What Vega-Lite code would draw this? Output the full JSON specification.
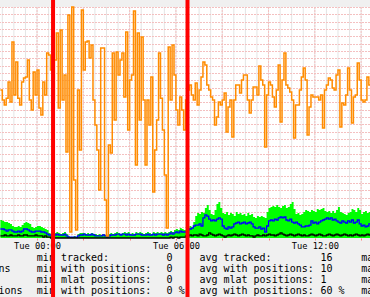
{
  "$schema": "https://vega.github.io/schema/vega-lite/v6.json",
  "width": 370,
  "height": 231,
  "autosize": {"type": "none"},
  "padding": {"top": 7, "bottom": 59, "left": 0, "right": 0},
  "background": "#f0f0f0",
  "config": {"view": {"fill": "#ffffff", "stroke": null}, "font": "DejaVu Sans Mono"},
  "datasets": {
    "hgrid": [{"v":100},{"v":96.9697},{"v":93.5065},{"v":90.4762},{"v":87.4459},{"v":83.9827},{"v":80.9524},{"v":77.9221},{"v":74.4589},{"v":71.4286},{"v":68.3983},{"v":64.9351},{"v":61.9048},{"v":58.8745},{"v":55.4113},{"v":52.3810},{"v":49.3506},{"v":45.8874},{"v":42.8571},{"v":39.8268},{"v":36.3636},{"v":33.3333},{"v":30.3030},{"v":26.8398},{"v":23.8095},{"v":20.7792},{"v":17.3160},{"v":14.2857},{"v":11.2554},{"v":7.7922},{"v":4.7619},{"v":1.7316}],
    "vgrid": [{"t":-90},{"t":-60},{"t":-30},{"t":0},{"t":30},{"t":60},{"t":90},{"t":120},{"t":150},{"t":180},{"t":210},{"t":240},{"t":270},{"t":300},{"t":330},{"t":360},{"t":390},{"t":420},{"t":450},{"t":480},{"t":510},{"t":540},{"t":570},{"t":600},{"t":630},{"t":660},{"t":690},{"t":720},{"t":750},{"t":780},{"t":810},{"t":840}],
    "series": [
      {"t":-95,"o":64.1,"g":7.8,"b":3.9,"k":0.9},
      {"t":-90,"o":59.7,"g":7.4,"b":3.9,"k":0.9},
      {"t":-85,"o":57.6,"g":6.9,"b":3.5,"k":1.3},
      {"t":-80,"o":60.5,"g":6.9,"b":3.0,"k":0.9},
      {"t":-75,"o":67.5,"g":6.5,"b":3.5,"k":0.9},
      {"t":-70,"o":58.9,"g":6.1,"b":3.5,"k":1.3},
      {"t":-65,"o":84.8,"g":5.2,"b":3.0,"k":0.9},
      {"t":-60,"o":61.9,"g":4.8,"b":2.6,"k":0.9},
      {"t":-55,"o":76.2,"g":4.8,"b":2.6,"k":0.9},
      {"t":-50,"o":60.5,"g":5.2,"b":3.0,"k":1.3},
      {"t":-45,"o":57.6,"g":4.8,"b":2.6,"k":0.9},
      {"t":-40,"o":67.5,"g":5.6,"b":3.0,"k":0.9},
      {"t":-35,"o":69.3,"g":6.5,"b":3.9,"k":1.3},
      {"t":-30,"o":69.7,"g":6.9,"b":3.9,"k":1.3},
      {"t":-25,"o":77.1,"g":6.5,"b":3.5,"k":0.9},
      {"t":-20,"o":59.7,"g":6.1,"b":3.0,"k":0.9},
      {"t":-15,"o":55.4,"g":4.8,"b":2.6,"k":0.9},
      {"t":-10,"o":71.9,"g":4.3,"b":2.6,"k":0.9},
      {"t":-5,"o":61.9,"g":4.8,"b":3.0,"k":1.3},
      {"t":0,"o":72.7,"g":5.2,"b":3.0,"k":0.9},
      {"t":5,"o":56.3,"g":5.2,"b":3.0,"k":0.9},
      {"t":10,"o":53.2,"g":4.8,"b":2.6,"k":0.9},
      {"t":15,"o":67.5,"g":4.3,"b":2.6,"k":0.4},
      {"t":20,"o":61.9,"g":3.9,"b":2.2,"k":0.9},
      {"t":25,"o":80.1,"g":3.5,"b":1.7,"k":0.4},
      {"t":30,"o":79.2,"g":2.2,"b":1.3,"k":0.4},
      {"t":35,"o":72.7,"g":1.7,"b":1.3,"k":0},
      {"t":40,"o":59.7,"g":2.6,"b":1.7,"k":0},
      {"t":45,"o":77.1,"g":2.2,"b":1.3,"k":0},
      {"t":50,"o":88.7,"g":2.6,"b":1.7,"k":0},
      {"t":55,"o":56.3,"g":2.2,"b":1.3,"k":0},
      {"t":60,"o":90,"g":1.7,"b":1.3,"k":0},
      {"t":65,"o":59.7,"g":2.2,"b":1.3,"k":0},
      {"t":70,"o":70.6,"g":2.6,"b":1.7,"k":0},
      {"t":75,"o":37.2,"g":1.7,"b":0.9,"k":0},
      {"t":80,"o":96.5,"g":0.9,"b":0.4,"k":0},
      {"t":85,"o":2.6,"g":0.4,"b":0.4,"k":0},
      {"t":90,"o":100,"g":0.4,"b":0.4,"k":0},
      {"t":95,"o":25.1,"g":0.9,"b":0.4,"k":0},
      {"t":100,"o":3.5,"g":0.4,"b":0.4,"k":0},
      {"t":105,"o":64.1,"g":1.7,"b":0.9,"k":0},
      {"t":110,"o":38.1,"g":2.2,"b":1.3,"k":0},
      {"t":115,"o":98.7,"g":2.2,"b":1.3,"k":0},
      {"t":120,"o":72.7,"g":2.2,"b":1.7,"k":0},
      {"t":125,"o":84.8,"g":1.7,"b":1.3,"k":0},
      {"t":130,"o":85.3,"g":2.2,"b":1.3,"k":0},
      {"t":135,"o":77.9,"g":1.7,"b":1.3,"k":0},
      {"t":140,"o":83.5,"g":2.2,"b":1.7,"k":0},
      {"t":145,"o":59.7,"g":1.7,"b":1.3,"k":0},
      {"t":150,"o":48.9,"g":1.7,"b":0.9,"k":0},
      {"t":155,"o":38.1,"g":1.3,"b":0.9,"k":0},
      {"t":160,"o":20.8,"g":1.7,"b":0.9,"k":0},
      {"t":165,"o":82.3,"g":1.3,"b":0.9,"k":0},
      {"t":170,"o":82.3,"g":1.7,"b":1.3,"k":0},
      {"t":175,"o":16.5,"g":1.3,"b":0.9,"k":0},
      {"t":180,"o":0.9,"g":0.9,"b":0.4,"k":0},
      {"t":185,"o":40.3,"g":1.7,"b":0.9,"k":0},
      {"t":190,"o":36.8,"g":2.2,"b":1.3,"k":0},
      {"t":195,"o":80.1,"g":1.7,"b":1.3,"k":0},
      {"t":200,"o":51.1,"g":2.2,"b":1.3,"k":0},
      {"t":205,"o":80.5,"g":2.6,"b":1.7,"k":0},
      {"t":210,"o":70.6,"g":2.2,"b":1.7,"k":0},
      {"t":215,"o":77.1,"g":1.7,"b":1.3,"k":0},
      {"t":220,"o":80.1,"g":2.2,"b":1.7,"k":0},
      {"t":225,"o":61,"g":2.6,"b":1.7,"k":0},
      {"t":230,"o":89.2,"g":2.2,"b":1.3,"k":0},
      {"t":235,"o":46.8,"g":2.6,"b":1.7,"k":0},
      {"t":240,"o":68.4,"g":1.7,"b":1.3,"k":0},
      {"t":245,"o":70.6,"g":2.2,"b":1.3,"k":0},
      {"t":250,"o":98.3,"g":1.7,"b":1.3,"k":0},
      {"t":255,"o":31.6,"g":2.6,"b":1.7,"k":0},
      {"t":260,"o":88.7,"g":2.2,"b":1.7,"k":0},
      {"t":265,"o":51.1,"g":2.6,"b":1.7,"k":0},
      {"t":270,"o":87,"g":2.2,"b":1.3,"k":0},
      {"t":275,"o":59.7,"g":1.7,"b":1.3,"k":0},
      {"t":280,"o":31.6,"g":2.2,"b":1.3,"k":0},
      {"t":285,"o":59.7,"g":2.6,"b":1.7,"k":0},
      {"t":290,"o":48.9,"g":2.2,"b":1.3,"k":0},
      {"t":295,"o":69.7,"g":1.7,"b":1.3,"k":0},
      {"t":300,"o":19.9,"g":2.6,"b":1.7,"k":0},
      {"t":305,"o":38.1,"g":2.2,"b":1.3,"k":0},
      {"t":310,"o":51.1,"g":2.6,"b":1.7,"k":0},
      {"t":315,"o":80.1,"g":2.2,"b":1.7,"k":0},
      {"t":320,"o":60.5,"g":2.6,"b":1.7,"k":0},
      {"t":325,"o":46.8,"g":2.2,"b":1.3,"k":0},
      {"t":330,"o":27.3,"g":2.6,"b":1.7,"k":0},
      {"t":335,"o":4.3,"g":2.2,"b":1.3,"k":0},
      {"t":340,"o":82.7,"g":2.6,"b":1.7,"k":0},
      {"t":345,"o":59.7,"g":3.0,"b":2.2,"k":0.4},
      {"t":350,"o":83.5,"g":2.6,"b":1.7,"k":0},
      {"t":355,"o":70.6,"g":3.5,"b":2.2,"k":0.4},
      {"t":360,"o":55.4,"g":3.9,"b":2.6,"k":0.4},
      {"t":365,"o":48.9,"g":3.5,"b":2.2,"k":0},
      {"t":370,"o":61,"g":4.3,"b":3.0,"k":0.4},
      {"t":375,"o":55.4,"g":3.9,"b":2.6,"k":0.4},
      {"t":380,"o":46.8,"g":3.5,"b":2.6,"k":0.4},
      {"t":385,"o":59.7,"g":3.5,"b":2.6,"k":0.9},
      {"t":390,"o":64.1,"g":4.3,"b":3.5,"k":0.9},
      {"t":395,"o":66.2,"g":5.2,"b":3.9,"k":1.3},
      {"t":400,"o":61.9,"g":4.8,"b":4.3,"k":0.9},
      {"t":405,"o":59.7,"g":6.9,"b":5.2,"k":1.3},
      {"t":410,"o":67.1,"g":9.5,"b":5.6,"k":1.3},
      {"t":415,"o":57.6,"g":10.8,"b":5.6,"k":0.9},
      {"t":420,"o":64.1,"g":10.4,"b":6.1,"k":1.7},
      {"t":425,"o":69.7,"g":11.3,"b":5.2,"k":1.3},
      {"t":430,"o":76.2,"g":10.8,"b":8.7,"k":0.9},
      {"t":435,"o":74.9,"g":13.0,"b":10.0,"k":0.9},
      {"t":440,"o":66.2,"g":14.3,"b":9.5,"k":1.3},
      {"t":445,"o":64.1,"g":12.1,"b":8.2,"k":2.2},
      {"t":450,"o":61,"g":10.4,"b":7.4,"k":1.7},
      {"t":455,"o":59.7,"g":10.0,"b":7.8,"k":1.3},
      {"t":460,"o":48.9,"g":12.1,"b":7.4,"k":0.9},
      {"t":465,"o":52.4,"g":14.7,"b":8.2,"k":1.3},
      {"t":470,"o":58.9,"g":15.6,"b":8.7,"k":1.7},
      {"t":475,"o":57.6,"g":13.0,"b":8.2,"k":1.3},
      {"t":480,"o":59.7,"g":10.8,"b":5.2,"k":0.9},
      {"t":485,"o":62.8,"g":10.4,"b":4.3,"k":0.4},
      {"t":490,"o":45.9,"g":11.3,"b":3.9,"k":0.9},
      {"t":495,"o":56.7,"g":10.0,"b":4.8,"k":1.3},
      {"t":500,"o":59.7,"g":10.8,"b":4.3,"k":0.9},
      {"t":505,"o":43.7,"g":10.4,"b":4.8,"k":1.3},
      {"t":510,"o":59.7,"g":9.5,"b":6.1,"k":1.7},
      {"t":515,"o":66.2,"g":11.3,"b":6.5,"k":1.3},
      {"t":520,"o":66.2,"g":10.4,"b":6.9,"k":0.9},
      {"t":525,"o":62.8,"g":10.8,"b":6.1,"k":1.3},
      {"t":530,"o":68.4,"g":10.0,"b":6.5,"k":1.7},
      {"t":535,"o":70.6,"g":10.4,"b":6.9,"k":1.3},
      {"t":540,"o":70.6,"g":9.5,"b":6.1,"k":0.9},
      {"t":545,"o":59.7,"g":10.8,"b":6.5,"k":1.3},
      {"t":550,"o":54.1,"g":10.0,"b":6.9,"k":0.9},
      {"t":555,"o":59.7,"g":10.4,"b":6.1,"k":0.9},
      {"t":560,"o":65.4,"g":9.1,"b":4.8,"k":0.4},
      {"t":565,"o":65.4,"g":8.7,"b":4.3,"k":0.9},
      {"t":570,"o":61.9,"g":9.5,"b":4.3,"k":1.3},
      {"t":575,"o":74.5,"g":9.1,"b":4.8,"k":0.9},
      {"t":580,"o":68.4,"g":9.5,"b":3.9,"k":0.9},
      {"t":585,"o":66.2,"g":9.1,"b":4.3,"k":1.3},
      {"t":590,"o":39.4,"g":8.7,"b":2.6,"k":0.9},
      {"t":595,"o":61.9,"g":11.3,"b":5.2,"k":1.3},
      {"t":600,"o":67.5,"g":13.0,"b":7.4,"k":1.7},
      {"t":605,"o":66.2,"g":13.4,"b":7.8,"k":1.3},
      {"t":610,"o":61,"g":13.9,"b":7.4,"k":1.3},
      {"t":615,"o":56.7,"g":13.4,"b":8.2,"k":0.9},
      {"t":620,"o":64.1,"g":14.3,"b":7.8,"k":1.3},
      {"t":625,"o":74.9,"g":13.4,"b":8.7,"k":1.7},
      {"t":630,"o":50.2,"g":13.0,"b":9.1,"k":2.2},
      {"t":635,"o":68.4,"g":13.9,"b":8.7,"k":1.7},
      {"t":640,"o":80.1,"g":14.3,"b":9.1,"k":1.3},
      {"t":645,"o":66.2,"g":13.0,"b":7.8,"k":0.9},
      {"t":650,"o":64.9,"g":13.4,"b":7.4,"k":1.3},
      {"t":655,"o":63.2,"g":14.7,"b":8.2,"k":1.7},
      {"t":660,"o":59.7,"g":15.6,"b":6.9,"k":1.3},
      {"t":665,"o":43.3,"g":12.6,"b":6.5,"k":0.9},
      {"t":670,"o":57.6,"g":10.4,"b":6.9,"k":1.3},
      {"t":675,"o":57.6,"g":10.8,"b":6.1,"k":1.7},
      {"t":680,"o":64.1,"g":10.0,"b":5.6,"k":1.3},
      {"t":685,"o":69.7,"g":10.4,"b":4.8,"k":0.9},
      {"t":690,"o":73.6,"g":11.3,"b":4.8,"k":1.3},
      {"t":695,"o":68.4,"g":12.1,"b":5.2,"k":0.9},
      {"t":700,"o":44.6,"g":11.7,"b":5.2,"k":0.9},
      {"t":705,"o":56.7,"g":11.3,"b":5.6,"k":1.3},
      {"t":710,"o":61.9,"g":12.1,"b":7.4,"k":1.7},
      {"t":715,"o":61,"g":11.7,"b":6.5,"k":1.3},
      {"t":720,"o":61,"g":11.3,"b":6.9,"k":0.9},
      {"t":725,"o":61,"g":12.6,"b":6.1,"k":1.3},
      {"t":730,"o":59.7,"g":12.1,"b":6.9,"k":1.7},
      {"t":735,"o":61.9,"g":12.6,"b":7.4,"k":1.3},
      {"t":740,"o":47.6,"g":13.0,"b":7.8,"k":0.9},
      {"t":745,"o":64.1,"g":11.7,"b":8.2,"k":0.9},
      {"t":750,"o":66.2,"g":11.3,"b":8.7,"k":1.3},
      {"t":755,"o":69.3,"g":11.7,"b":8.2,"k":1.7},
      {"t":760,"o":68.4,"g":10.8,"b":8.7,"k":1.3},
      {"t":765,"o":64.9,"g":11.7,"b":7.8,"k":0.9},
      {"t":770,"o":64.1,"g":10.8,"b":8.2,"k":1.3},
      {"t":775,"o":70.6,"g":12.1,"b":7.4,"k":1.7},
      {"t":780,"o":72.7,"g":13.4,"b":6.9,"k":1.3},
      {"t":785,"o":48.1,"g":11.3,"b":6.5,"k":0.9},
      {"t":790,"o":58.4,"g":10.8,"b":7.4,"k":1.3},
      {"t":795,"o":57.6,"g":10.4,"b":6.9,"k":1.7},
      {"t":800,"o":61.9,"g":10.0,"b":6.5,"k":1.3},
      {"t":805,"o":73.6,"g":10.8,"b":7.4,"k":0.9},
      {"t":810,"o":64.1,"g":11.3,"b":6.9,"k":1.3},
      {"t":815,"o":49.8,"g":12.6,"b":7.8,"k":0.9},
      {"t":820,"o":61,"g":12.1,"b":6.5,"k":1.3},
      {"t":825,"o":61.9,"g":11.3,"b":6.9,"k":1.7},
      {"t":830,"o":75.8,"g":13.0,"b":7.8,"k":1.3},
      {"t":835,"o":68.4,"g":12.1,"b":6.1,"k":0.9},
      {"t":840,"o":59.7,"g":10.4,"b":5.2,"k":1.3},
      {"t":845,"o":58.9,"g":11.3,"b":5.6,"k":0.9},
      {"t":850,"o":59.7,"g":11.7,"b":4.8,"k":1.3},
      {"t":855,"o":69.7,"g":10.8,"b":5.2,"k":1.7},
      {"t":860,"o":66.2,"g":11.3,"b":6.1,"k":1.3},
      {"t":865,"o":66.2,"g":11.3,"b":6.1,"k":1.3}
    ],
    "events": [{"t": 41.5}, {"t": 390}]
  },
  "layer": [
    {
      "data": {"name": "vgrid"},
      "mark": {"type": "rule", "color": "#e4e4e4", "strokeWidth": 1},
      "encoding": {
        "x": {
          "field": "t", "type": "quantitative", "title": null,
          "scale": {"domain": [-96, 863], "nice": false, "zero": false},
          "axis": {
            "values": [0, 120, 240, 360, 480, 600, 720, 840],
            "grid": false,
            "domain": false,
            "ticks": true,
            "tickSize": 2,
            "tickColor": "#ff8080",
            "labelExpr": "datum.value === 0 ? 'Tue 00:00' : datum.value === 360 ? 'Tue 06:00' : datum.value === 720 ? 'Tue 12:00' : ''",
            "labelFont": "DejaVu Sans Mono",
            "labelFontSize": 8.7,
            "labelColor": "#000000",
            "labelBaseline": "alphabetic",
            "labelPadding": 8.3,
            "labelOverlap": false,
            "labelFlush": false,
            "labelBound": false
          }
        }
      }
    },
    {
      "data": {"name": "vgrid"},
      "transform": [{"filter": "datum.t % 120 === 0"}],
      "mark": {"type": "rule", "color": "#f4c0c0", "strokeWidth": 1, "strokeDash": [2, 1]},
      "encoding": {
        "x": {"field": "t", "type": "quantitative", "title": null}
      }
    },
    {
      "data": {"name": "hgrid"},
      "mark": {"type": "rule", "color": "#f4c0c0", "strokeWidth": 1, "strokeDash": [2, 1], "yOffset": 0.5},
      "encoding": {
        "y": {
          "field": "v", "type": "quantitative", "title": null,
          "scale": {"domain": [0, 100], "nice": false, "zero": false},
          "axis": null
        }
      }
    },
    {
      "data": {"name": "series"},
      "mark": {"type": "area", "interpolate": "step-after", "color": "#00ff00"},
      "encoding": {
        "x": {"field": "t", "type": "quantitative", "title": null},
        "y": {"field": "g", "type": "quantitative", "title": null, "axis": null}
      }
    },
    {
      "data": {"name": "series"},
      "mark": {"type": "line", "interpolate": "step-after", "color": "#0000ff", "strokeWidth": 1.3},
      "encoding": {
        "x": {"field": "t", "type": "quantitative", "title": null},
        "y": {"field": "b", "type": "quantitative", "title": null, "axis": null}
      }
    },
    {
      "data": {"name": "series"},
      "mark": {"type": "line", "interpolate": "step-after", "color": "#000000", "strokeWidth": 1.3},
      "encoding": {
        "x": {"field": "t", "type": "quantitative", "title": null},
        "y": {"field": "k", "type": "quantitative", "title": null, "axis": null}
      }
    },
    {
      "data": {"name": "series"},
      "mark": {"type": "line", "interpolate": "step-after", "color": "#ff8c00", "strokeWidth": 1.5},
      "encoding": {
        "x": {"field": "t", "type": "quantitative", "title": null},
        "y": {"field": "o", "type": "quantitative", "title": null, "axis": null}
      }
    },
    {
      "data": {"values": [{"txt": "aircraft tracked\naircraft with positions\nmlat aircraft\n% aircraft with positions"}]},
      "mark": {"type": "text", "font": "DejaVu Sans Mono", "fontSize": 10, "align": "left", "baseline": "alphabetic", "lineBreak": "\n", "lineHeight": 11.1, "color": "#000000"},
      "encoding": {"x": {"datum": -427.5}, "y": {"datum": -9.87}, "text": {"field": "txt"}}
    },
    {
      "data": {"values": [{"txt": "min tracked:\nmin with positions:\nmin mlat positions:\nmin with positions:"}]},
      "mark": {"type": "text", "font": "DejaVu Sans Mono", "fontSize": 10, "align": "left", "baseline": "alphabetic", "lineBreak": "\n", "lineHeight": 11.1, "color": "#000000"},
      "encoding": {"x": {"datum": -0.5}, "y": {"datum": -9.87}, "text": {"field": "txt"}}
    },
    {
      "data": {"values": [{"txt": "0\n0\n0\n0 %"}]},
      "mark": {"type": "text", "font": "DejaVu Sans Mono", "fontSize": 10, "align": "left", "baseline": "alphabetic", "lineBreak": "\n", "lineHeight": 11.1, "color": "#000000"},
      "encoding": {"x": {"datum": 335.8}, "y": {"datum": -9.87}, "text": {"field": "txt"}}
    },
    {
      "data": {"values": [{"txt": "avg tracked:\navg with positions:\navg mlat positions:\navg with positions:"}]},
      "mark": {"type": "text", "font": "DejaVu Sans Mono", "fontSize": 10, "align": "left", "baseline": "alphabetic", "lineBreak": "\n", "lineHeight": 11.1, "color": "#000000"},
      "encoding": {"x": {"datum": 420.8}, "y": {"datum": -9.87}, "text": {"field": "txt"}}
    },
    {
      "data": {"values": [{"txt": "16\n10\n\u00a01\n60 %"}]},
      "mark": {"type": "text", "font": "DejaVu Sans Mono", "fontSize": 10, "align": "left", "baseline": "alphabetic", "lineBreak": "\n", "lineHeight": 11.1, "color": "#000000"},
      "encoding": {"x": {"datum": 734.5}, "y": {"datum": -9.87}, "text": {"field": "txt"}}
    },
    {
      "data": {"values": [{"txt": "max tracked:\nmax with positions:\nmax mlat positions:\nmax with positions:"}]},
      "mark": {"type": "text", "font": "DejaVu Sans Mono", "fontSize": 10, "align": "left", "baseline": "alphabetic", "lineBreak": "\n", "lineHeight": 11.1, "color": "#000000"},
      "encoding": {"x": {"datum": 840.2}, "y": {"datum": -9.87}, "text": {"field": "txt"}}
    },
    {
      "data": {"name": "events"},
      "mark": {"type": "rule", "color": "#ff0000", "strokeWidth": 4},
      "encoding": {
        "x": {"field": "t", "type": "quantitative", "title": null},
        "y": {"datum": -26},
        "y2": {"datum": 104}
      }
    }
  ]
}
